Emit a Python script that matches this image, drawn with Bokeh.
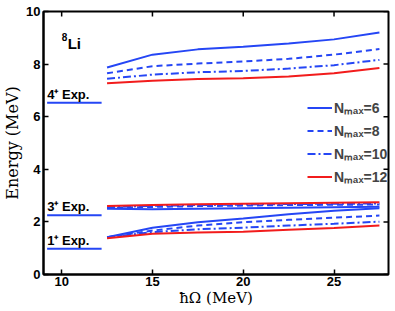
import math
from bokeh.plotting import figure
from bokeh.models import Range1d, FixedTicker, Legend, LegendItem, ColumnDataSource
from bokeh.core.properties import value
from bokeh.embed import file_html
from bokeh.resources import INLINE

# hbar Omega values (MeV)
hw = [12.5, 15, 17.5, 20, 22.5, 25, 27.5]
nmax_labels = ["N\u2098\u2090\u2093=6", "N\u2098\u2090\u2093=8", "N\u2098\u2090\u2093=10", "N\u2098\u2090\u2093=12"]

# 4+ state
e4_n6 = [7.87, 8.36, 8.56, 8.66, 8.78, 8.94, 9.20]
e4_n8 = [7.65, 7.92, 8.02, 8.10, 8.20, 8.36, 8.57]
e4_n10 = [7.44, 7.60, 7.69, 7.74, 7.83, 7.96, 8.16]
e4_n12 = [7.27, 7.37, 7.43, 7.46, 7.53, 7.65, 7.85]
# 3+ state
e3_n6 = [2.50, 2.48, 2.50, 2.52, 2.54, 2.56, 2.58]
e3_n8 = [2.53, 2.57, 2.60, 2.62, 2.64, 2.65, 2.66]
e3_n10 = [2.56, 2.61, 2.64, 2.66, 2.68, 2.69, 2.70]
e3_n12 = [2.60, 2.64, 2.67, 2.69, 2.71, 2.73, 2.75]
# 1+ state
e1_n6 = [1.42, 1.78, 1.99, 2.13, 2.29, 2.42, 2.52]
e1_n8 = [1.42, 1.67, 1.86, 1.99, 2.08, 2.16, 2.24]
e1_n10 = [1.41, 1.61, 1.72, 1.78, 1.86, 1.93, 2.01]
e1_n12 = [1.38, 1.55, 1.60, 1.63, 1.70, 1.77, 1.86]

# experimental
exp_labels = ["1\u207a Exp.", "3\u207a Exp.", "4\u207a Exp."]
exp_energy = [0.98, 2.255, 6.53]
exp_x0 = 9.2
exp_x1 = 12.2

x_ticks = [10, 15, 20, 25]
y_ticks = [0, 2, 4, 6, 8, 10]
X_MIN, X_MAX, Y_MIN, Y_MAX = 9, 28, 0, 10

BLUE = "#2546f5"
RED = "#f21c1c"

p = figure(width=393, height=311, output_backend="svg", toolbar_location=None,
           x_range=Range1d(X_MIN, X_MAX), y_range=Range1d(Y_MIN, Y_MAX),
           min_border_left=38, min_border_right=5, min_border_top=11, min_border_bottom=37)
p.grid.visible = False
p.outline_line_color = "black"
p.outline_line_width = 2
p.background_fill_color = "white"
p.border_fill_color = "white"

for ax in (p.xaxis[0], p.yaxis[0]):
    ax.axis_line_width = 2
    ax.axis_line_color = "black"
    ax.major_tick_in = 5
    ax.major_tick_out = 0
    ax.major_tick_line_width = 1.5
    ax.minor_tick_line_color = None
    ax.major_label_text_font = "Liberation Sans"
    ax.major_label_text_font_style = "bold"
    ax.major_label_text_font_size = "13px"
    ax.major_label_text_color = "black"
    ax.major_label_standoff = 3
    ax.axis_label_text_font = "DejaVu Serif"
    ax.axis_label_text_font_style = "normal"
    ax.axis_label_text_font_size = "16px"
    ax.axis_label_text_color = "black"

p.xaxis.major_label_standoff = 2
p.xaxis.axis_label_standoff = 0
p.xaxis.axis_label_text_font_size = "15px"
p.yaxis.axis_label_standoff = 1
p.xaxis.ticker = FixedTicker(ticks=x_ticks)
p.yaxis.ticker = FixedTicker(ticks=y_ticks)
p.xaxis.axis_label = "\u0127\u03a9 (MeV)"
p.yaxis.axis_label = "Energy (MeV)"

# inward ticks on top and right edges of the box
p.ray(x=x_ticks, y=[Y_MAX] * len(x_ticks), length=5, length_units="screen",
      angle=-math.pi / 2, line_color="black", line_width=1.5)
p.ray(x=[X_MAX] * len(y_ticks), y=y_ticks, length=5, length_units="screen",
      angle=math.pi, line_color="black", line_width=1.5)

series4 = [e4_n6, e4_n8, e4_n10, e4_n12]
series3 = [e3_n6, e3_n8, e3_n10, e3_n12]
series1 = [e1_n6, e1_n8, e1_n10, e1_n12]
colors = [BLUE, BLUE, BLUE, RED]
dashes = ["solid", "6 4", "8 3 2 3", "solid"]

renderers = []
for i in range(4):
    rs = []
    for ser in (series1, series3, series4):
        r = p.line(hw, ser[i], line_color=colors[i], line_width=2, line_dash=dashes[i])
        rs.append(r)
    renderers.append(rs)

# experimental levels
p.segment(x0=[exp_x0] * 3, x1=[exp_x1] * 3, y0=exp_energy, y1=exp_energy,
          line_color=BLUE, line_width=2)
src = ColumnDataSource(dict(x=[exp_x0] * 3, y=exp_energy, t=exp_labels))
p.text(x="x", y="y", text="t", source=src, text_font=value("Liberation Sans"),
       text_font_style="bold", text_font_size="13px", text_baseline="bottom",
       text_color="black", y_offset=-1)

# nucleus label 8Li
p.text(x=[10.0], y=[8.78], text=["8"], text_font=value("Liberation Sans"),
       text_font_style="bold", text_font_size="10px", text_baseline="alphabetic",
       text_color="black", y_offset=-7)
p.text(x=[10.0], y=[8.78], text=["Li"], text_font=value("Liberation Sans"),
       text_font_style="bold", text_font_size="15px", text_baseline="alphabetic",
       text_color="black", x_offset=6)

legend = Legend(items=[LegendItem(label=nmax_labels[i], renderers=[renderers[i][0]]) for i in range(4)],
                location=(264, 86))
legend.background_fill_alpha = 0
legend.border_line_alpha = 0
legend.padding = 0
legend.margin = 0
legend.spacing = 0
legend.glyph_width = 25
legend.glyph_height = 23
legend.label_height = 23
legend.label_standoff = 2
legend.label_text_font = "Liberation Sans"
legend.label_text_font_style = "bold"
legend.label_text_font_size = "14px"
p.add_layout(legend, "center")

open("out.html", "w").write(file_html(p, INLINE))
